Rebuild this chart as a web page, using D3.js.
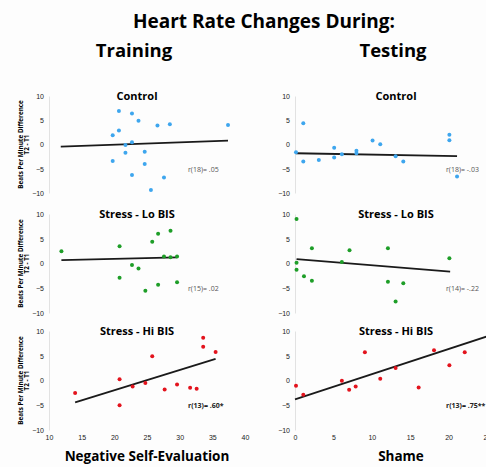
<!DOCTYPE html>
<html>
<head>
<meta charset="utf-8">
<script src="https://cdnjs.cloudflare.com/ajax/libs/d3/7.8.5/d3.min.js"></script>
<style>
  body { margin: 0; background: #fdfdfd; }
  svg { display: block; font-family: "Open Sans", "DejaVu Sans", sans-serif; }
  .tick text { fill: #222; font-size: 7px; }
</style>
</head>
<body>
<div id="chart"></div>
<script>
// heart rate change vs negative self-evaluation (training) and shame (testing)
var svgWidth = 486;
var svgHeight = 467;

var groups = ["Control", "Stress - Lo BIS", "Stress - Hi BIS"];
var phases = ["Training", "Testing"];
var xTitles = ["Negative Self-Evaluation", "Shame"];
var yTicks = [-10, -5, 0, 5, 10];
var xTicksTraining = [10, 15, 20, 25, 30, 35, 40];
var xTicksTesting = [0, 5, 10, 15, 20, 25];

// training: negative self-evaluation (x) vs bpm difference (y)
var ctrlTrainX = [20.7, 22.7, 23.7, 20.7, 19.75, 26.6, 28.5, 37.4, 21.7, 22.7, 21.7, 24.65, 19.75, 24.65, 22.7, 27.6, 25.6];
var ctrlTrainY = [6.9, 6.4, 4.9, 2.9, 1.9, 3.9, 4.2, 4.0, -0.1, 0.45, -1.7, -1.5, -3.4, -4.0, -6.3, -6.8, -9.4];
var loTrainX = [11.9, 20.8, 25.8, 26.7, 28.6, 27.6, 28.6, 29.6, 22.7, 23.7, 20.8, 26.7, 29.6, 24.75];
var loTrainY = [2.5, 3.5, 4.4, 6.0, 6.6, 1.4, 1.25, 1.4, -0.3, -1.0, -2.9, -4.3, -3.8, -5.5];
var hiTrainX = [14.0, 20.8, 20.8, 22.8, 24.75, 25.8, 27.7, 29.6, 31.6, 32.6, 33.6, 33.6, 35.5];
var hiTrainY = [-2.5, 0.25, -5.0, -1.2, -0.5, 4.9, -1.8, -0.8, -1.45, -1.65, 8.65, 6.8, 5.75];

// testing: shame (x) vs bpm difference (y)
var ctrlTestX = [0.13, 1.08, 1.08, 3.1, 5.1, 5.1, 6.1, 8.0, 8.0, 10.1, 11.1, 13.1, 14.1, 20.1, 20.1, 21.1];
var ctrlTestY = [-1.6, 4.4, -3.5, -3.2, -0.65, -2.7, -2.0, -1.3, -1.8, 0.8, 0.05, -2.4, -3.5, 2.0, 0.9, -6.6];
var loTestX = [0.2, 0.2, 0.2, 1.17, 2.2, 2.2, 6.1, 7.1, 12.1, 12.1, 14.1, 13.1, 20.1];
var loTestY = [9.0, 0.15, -1.25, -2.6, 3.1, -3.5, 0.3, 2.7, 3.1, -3.7, -4.0, -7.7, 1.05];
var hiTestX = [0.13, 1.08, 6.1, 7.05, 7.9, 9.1, 11.1, 13.1, 16.1, 18.1, 20.1, 22.1];
var hiTestY = [-1.05, -2.9, -0.05, -1.85, -1.2, 5.7, 0.35, 2.55, -1.4, 6.1, 3.1, 5.7];

// fitted lines: [x1, y1, x2, y2]
var fitTrain = [[11.8, -0.45, 37.4, 0.8], [11.9, 0.7, 29.6, 1.25], [14.0, -4.4, 35.5, 4.35]];
var fitTest = [[0.1, -1.8, 21.1, -2.4], [0.2, 0.9, 20.2, -1.65], [0.0, -3.8, 25.0, 8.9]];

var rTrain = ["r(18)= .05", "r(15)= .02", "r(13)= .60*"];
var rTest = ["r(18)= -.03", "r(14)= -.22", "r(13)= .75**"];

var dotColors = ["#3ea6ee", "#1e9e28", "#e3131d"];

var svg = d3.select("#chart")
  .append("svg")
  .attr("width", svgWidth)
  .attr("height", svgHeight);

// titles
svg.append("text")
  .attr("x", 264).attr("y", 28)
  .attr("text-anchor", "middle")
  .attr("font-size", "19px").attr("font-weight", "bold")
  .text("Heart Rate Changes During:");

var phaseX = [134, 393];
phases.forEach(function(p, i) {
  svg.append("text")
    .attr("x", phaseX[i]).attr("y", 57)
    .attr("text-anchor", "middle")
    .attr("font-size", "18.5px").attr("font-weight", "bold")
    .text(p);
});

// scales
var xScaleTrain = d3.scaleLinear().domain([10, 40]).range([49, 245]);
var xScaleTest = d3.scaleLinear().domain([0, 25]).range([295, 487]);
var rowRanges = [[193, 96], [313, 214], [430, 331]];

var trainData = [[ctrlTrainX, ctrlTrainY], [loTrainX, loTrainY], [hiTrainX, hiTrainY]];
var testData = [[ctrlTestX, ctrlTestY], [loTestX, loTestY], [hiTestX, hiTestY]];

function drawPanel(col, row) {
  var xScale = col === 0 ? xScaleTrain : xScaleTest;
  var yScale = d3.scaleLinear().domain([-10, 10]).range(rowRanges[row]);
  var pts = col === 0 ? trainData[row] : testData[row];
  var fit = col === 0 ? fitTrain[row] : fitTest[row];
  var g = svg.append("g");

  // y axis
  var leftAxis = d3.axisLeft(yScale).tickValues(yTicks).tickSize(0).tickPadding(5);
  var yAxis = g.append("g")
    .attr("transform", `translate(${xScale.range()[0]}, 0)`)
    .call(leftAxis);
  yAxis.select(".domain").attr("stroke", "#e2e2e2");

  // x axis only on the bottom row
  if (row === 2) {
    var bottomAxis = d3.axisBottom(xScale)
      .tickValues(col === 0 ? xTicksTraining : xTicksTesting)
      .tickSize(0).tickPadding(5);
    var xAxis = g.append("g")
      .attr("transform", `translate(0, ${yScale(-10)})`)
      .call(bottomAxis);
    xAxis.select(".domain").remove();
  }

  // panel title
  g.append("text")
    .attr("x", col === 0 ? 137 : 396)
    .attr("y", yScale(10) + 4)
    .attr("text-anchor", "middle")
    .attr("font-size", "11px").attr("font-weight", "bold")
    .text(groups[row]);

  // y axis title, left column only
  if (col === 0) {
    var yt = g.append("text")
      .attr("transform", `translate(22.5, ${yScale(0)}) rotate(-90)`)
      .attr("text-anchor", "middle")
      .attr("font-size", "6.3px").attr("font-weight", "bold");
    yt.append("tspan").attr("x", 0).attr("dy", 0).text("Beats Per Minute Difference");
    yt.append("tspan").attr("x", 0).attr("dy", "1.05em").text("T2 - T1");
  }

  // fit line
  g.append("line")
    .attr("x1", xScale(fit[0])).attr("y1", yScale(fit[1]))
    .attr("x2", xScale(fit[2])).attr("y2", yScale(fit[3]))
    .attr("stroke", "#1a1a1a")
    .attr("stroke-width", 1.8);

  // points
  g.selectAll("circle")
    .data(d3.range(pts[0].length))
    .enter()
    .append("circle")
    .attr("cx", i => xScale(pts[0][i]))
    .attr("cy", i => yScale(pts[1][i]))
    .attr("r", 2)
    .attr("fill", dotColors[row]);

  // r label
  g.append("text")
    .attr("x", col === 0 ? 188 : 446)
    .attr("y", yScale(-5.2) + 2)
    .attr("font-size", "7px")
    .attr("font-weight", row === 2 ? "bold" : "normal")
    .attr("fill", row === 2 ? "#222" : "#555")
    .text(col === 0 ? rTrain[row] : rTest[row]);
}

for (var r = 0; r < 3; r++) {
  drawPanel(0, r);
  drawPanel(1, r);
}

// x axis titles
var xtX = [147, 401];
xTitles.forEach(function(t, i) {
  svg.append("text")
    .attr("x", xtX[i]).attr("y", 461)
    .attr("text-anchor", "middle")
    .attr("font-size", "13.5px").attr("font-weight", "bold")
    .text(t);
});
</script>
</body>
</html>
